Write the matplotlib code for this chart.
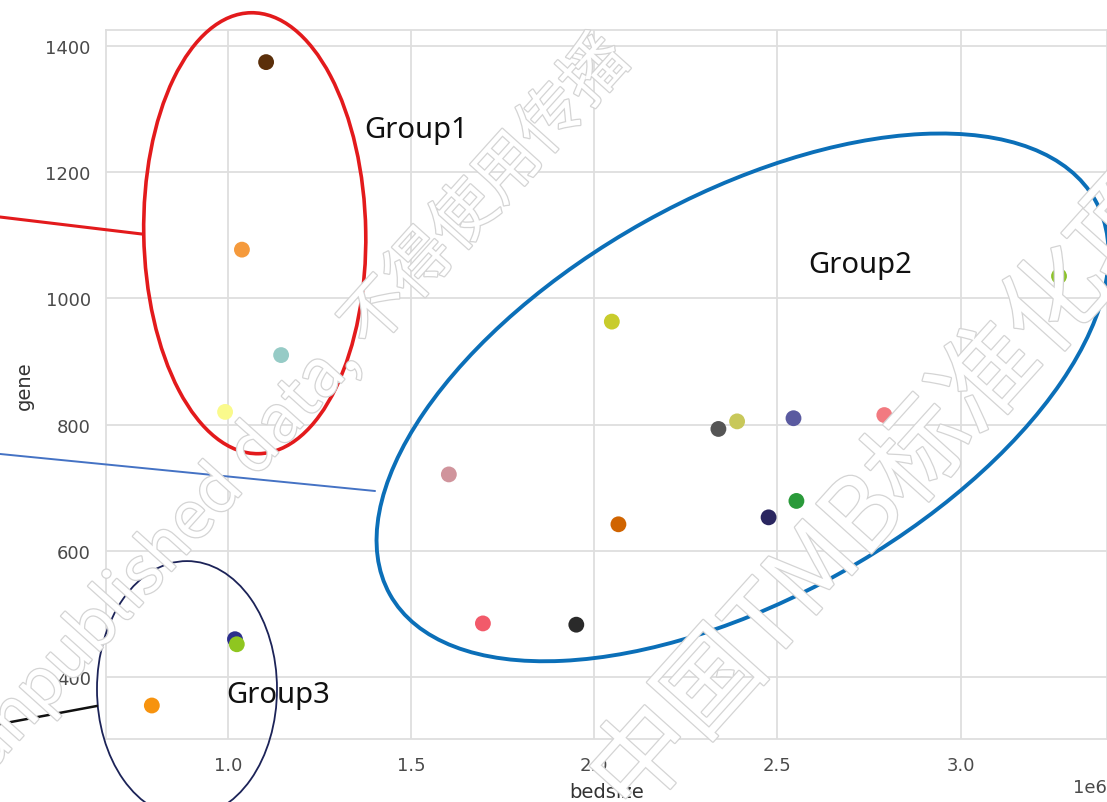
import matplotlib
matplotlib.use("Agg")
import matplotlib.pyplot as plt
import matplotlib.transforms as mtransforms
import matplotlib.patheffects as pe
from matplotlib.patches import Ellipse
from matplotlib.lines import Line2D
import seaborn as sns

sns.set_style("whitegrid")
plt.rcParams['font.family'] = ['DejaVu Sans']

# Sample panel: target bed size (bp) versus gene count
samples = ["S01", "S02", "S03", "S04", "S05", "S06", "S07", "S08", "S09", "S10",
           "S11", "S12", "S13", "S14", "S15", "S16", "S17", "S18", "S19"]
bedsize = [1.104e6, 1.038e6, 1.145e6, 0.992e6,
           1.019e6, 1.024e6, 0.792e6,
           2.048e6, 1.603e6, 2.066e6, 1.696e6, 1.951e6, 2.339e6, 2.390e6,
           2.544e6, 2.476e6, 2.552e6, 2.792e6, 3.269e6]
gene = [1374, 1077, 910, 820,
        460, 452, 355,
        963, 721, 642, 485, 483, 793, 805,
        810, 653, 679, 815, 1035]
colors = ["#5b2f0a", "#f59a3c", "#96cbc6", "#fafa8c",
          "#2b2f8c", "#8fc620", "#f7930e",
          "#c8cc2c", "#d0949c", "#d06400", "#f25a6a", "#2a2a2a", "#555555", "#c8c85a",
          "#5a5aa0", "#2a2660", "#2a9a3a", "#f27a80", "#8cc22a"]

group_names = ["Group1", "Group2", "Group3"]
group_label_x = [1.371e6, 2.584e6, 0.995e6]
group_label_y = [1255, 1041, 360]

fig = plt.figure(figsize=(11.07, 8.03), dpi=100)
ax = fig.add_axes([0.0958, 0.0785, 0.9042, 0.883])

ax.scatter(bedsize, gene, c=colors, s=130, linewidths=0, zorder=3)

ax.set_xlim(0.667e6, 3.40e6)
ax.set_ylim(302, 1425)
ax.set_xticks([1.0e6, 1.5e6, 2.0e6, 2.5e6, 3.0e6])
ax.set_yticks([400, 600, 800, 1000, 1200, 1400])
ax.grid(True, color="#dedede", linewidth=1.3)
for sp in ax.spines.values():
    sp.set_color("#dedede")
    sp.set_linewidth(1.3)
ax.tick_params(axis="both", labelsize=13, labelcolor="#4a4a4a", length=0)
ax.tick_params(axis="x", pad=12)
ax.tick_params(axis="y", pad=11)
ax.xaxis.get_offset_text().set_fontsize(13)
ax.xaxis.get_offset_text().set_color("#4a4a4a")
ax.set_xlabel("bedsize", fontsize=14, color="#333333", labelpad=6)
ax.set_ylabel("gene", fontsize=14, color="#333333", labelpad=8)

# Group outlines, sized in inches around a data-space centre
def ring(xc, yc, w, h, angle, color, lw):
    tr = fig.dpi_scale_trans + mtransforms.ScaledTranslation(xc, yc, ax.transData)
    e = Ellipse((0, 0), w, h, angle=angle, fill=False, edgecolor=color,
                linewidth=lw, transform=tr, clip_on=False, zorder=4)
    ax.add_artist(e)

ring(1.073e6, 1103, 2.22, 4.41, 1.0, "#e31a1c", 2.6)
ring(2.405e6, 843, 8.08, 4.02, 29.2, "#0b6fb8", 2.8)
ring(0.888e6, 381, 1.80, 2.56, 0, "#1c2358", 1.3)

# Connector lines coming in from the left margin
fig.add_artist(Line2D([0.0, 0.1283], [0.7285, 0.7073], color="#e31a1c", linewidth=2.2))
fig.add_artist(Line2D([0.0, 0.3388], [0.4334, 0.3873], color="#4472c4", linewidth=1.4))
fig.add_artist(Line2D([0.0, 0.0876], [0.0971, 0.1196], color="#111111", linewidth=1.8))

for name, gx, gy in zip(group_names, group_label_x, group_label_y):
    ax.text(gx, gy, name, fontsize=21, family="Noto Sans", color="#111111",
            ha="left", va="baseline", zorder=5)

# Faint outlined watermark
wm_fx = [pe.Stroke(linewidth=1.8, foreground="#d4d4d4"), pe.Normal()]
fig.text(-0.01, 0.035, "unpublished data, 不得使用传播", fontsize=47,
         family=["Noto Sans CJK SC", "DejaVu Sans"], color="white",
         rotation=48, rotation_mode="anchor", ha="left", va="baseline",
         path_effects=wm_fx, zorder=6)
fig.text(0.572, -0.02, "中国TMB标准化项目", fontsize=73,
         family=["Noto Sans CJK SC", "DejaVu Sans"], color="white",
         rotation=48, rotation_mode="anchor", ha="left", va="baseline",
         path_effects=wm_fx, zorder=6)

fig.savefig("out.png", dpi=100)
